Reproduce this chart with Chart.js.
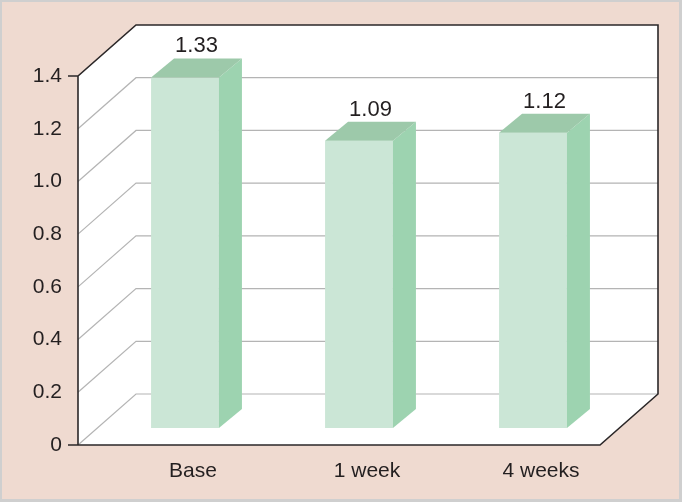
<!DOCTYPE html>
<html>
<head>
<meta charset="utf-8">
<script src="https://cdn.jsdelivr.net/npm/chart.js@4/dist/chart.umd.min.js"></script>
<style>
  body { margin: 0; background: #c9c9c9; }
  canvas { display: block; }
</style>
</head>
<body>
<canvas id="chart" width="682" height="502"></canvas>
<script>
// --- DONNÉES ---
const categories = ['Base', '1 week', '4 weeks'];
const values = [1.33, 1.09, 1.12];
const valueLabels = ['1.33', '1.09', '1.12'];
const yTicks = [0, 0.2, 0.4, 0.6, 0.8, 1.0, 1.2, 1.4];

// --- STYLE ---
const FONT = '"Liberation Sans", Arial, sans-serif';
const TEXT = '#231f20';
const FRAME_DX = 58, FRAME_DY = -51;   // profondeur du cadre 3D
const BAR_TX = 20, BAR_TY = -17;       // décalage des barres dans la profondeur
const BAR_DX = 23, BAR_DY = -19;       // épaisseur des barres

// cadre 3D, grille et faces latérales des barres
const box3d = {
    id: 'box3d',
    beforeDraw(chart) {
        const ctx = chart.ctx, a = chart.chartArea;
        ctx.save();
        ctx.fillStyle = '#cfcfcf';
        ctx.fillRect(0, 0, chart.width, chart.height);
        ctx.fillStyle = '#efdad0';
        ctx.fillRect(2, 2, chart.width - 5, chart.height - 5);
        // fond blanc du cadre
        ctx.fillStyle = '#ffffff';
        ctx.beginPath();
        ctx.moveTo(a.left, a.top);
        ctx.lineTo(a.left + FRAME_DX, a.top + FRAME_DY);
        ctx.lineTo(a.right + FRAME_DX, a.top + FRAME_DY);
        ctx.lineTo(a.right + FRAME_DX, a.bottom + FRAME_DY);
        ctx.lineTo(a.right, a.bottom);
        ctx.lineTo(a.left, a.bottom);
        ctx.closePath();
        ctx.fill();
        ctx.restore();
    },
    beforeDatasetsDraw(chart) {
        const ctx = chart.ctx, a = chart.chartArea, y = chart.scales.y;
        ctx.save();
        // grille (mur du fond + mur gauche)
        ctx.strokeStyle = '#b4b4b4';
        ctx.lineWidth = 1.2;
        yTicks.slice(0, -1).forEach(v => {
            const py = y.getPixelForValue(v);
            ctx.beginPath();
            ctx.moveTo(a.left, py);
            ctx.lineTo(a.left + FRAME_DX, py + FRAME_DY);
            ctx.lineTo(a.right + FRAME_DX, py + FRAME_DY);
            ctx.stroke();
        });
        // contour
        ctx.strokeStyle = '#2b2728';
        ctx.lineWidth = 1.6;
        ctx.beginPath();
        ctx.moveTo(a.left - 10, a.top);
        ctx.lineTo(a.left, a.top);
        ctx.lineTo(a.left + FRAME_DX, a.top + FRAME_DY);
        ctx.lineTo(a.right + FRAME_DX, a.top + FRAME_DY);
        ctx.lineTo(a.right + FRAME_DX, a.bottom + FRAME_DY);
        ctx.lineTo(a.right, a.bottom);
        ctx.lineTo(a.left - 10, a.bottom);
        ctx.moveTo(a.left, a.top);
        ctx.lineTo(a.left, a.bottom);
        ctx.stroke();
        // barres décalées dans la profondeur
        ctx.translate(BAR_TX, BAR_TY);
    },
    afterDatasetsDraw(chart) {
        const ctx = chart.ctx;
        ctx.restore();
        const meta = chart.getDatasetMeta(0);
        ctx.save();
        meta.data.forEach((bar, i) => {
            const p = bar.getProps(['x', 'y', 'base', 'width'], true);
            const l = p.x - p.width / 2 + BAR_TX, r = p.x + p.width / 2 + BAR_TX;
            const t = p.y + BAR_TY, b = p.base + BAR_TY;
            // face droite
            ctx.fillStyle = '#9dd3b0';
            ctx.beginPath();
            ctx.moveTo(r, t);
            ctx.lineTo(r + BAR_DX, t + BAR_DY);
            ctx.lineTo(r + BAR_DX, b + BAR_DY);
            ctx.lineTo(r, b);
            ctx.closePath();
            ctx.fill();
            // dessus
            ctx.fillStyle = '#9dc9aa';
            ctx.beginPath();
            ctx.moveTo(l, t);
            ctx.lineTo(l + BAR_DX, t + BAR_DY);
            ctx.lineTo(r + BAR_DX, t + BAR_DY);
            ctx.lineTo(r, t);
            ctx.closePath();
            ctx.fill();
            // étiquette de valeur
            ctx.fillStyle = TEXT;
            ctx.font = '22px ' + FONT;
            ctx.textAlign = 'center';
            ctx.textBaseline = 'alphabetic';
            ctx.fillText(valueLabels[i], (l + r) / 2 + BAR_DX / 2, t + BAR_DY - 6);
        });
        ctx.restore();
    }
};

new Chart(document.getElementById('chart'), {
    type: 'bar',
    data: {
        labels: categories,
        datasets: [{
            data: values,
            backgroundColor: '#cbe6d6',
            borderWidth: 0,
            barPercentage: 0.39,
            categoryPercentage: 1,
            clip: false
        }]
    },
    options: {
        responsive: false,
        animation: false,
        events: [],
        layout: { padding: { top: 76, right: 82, left: 0, bottom: 0 } },
        plugins: { legend: { display: false }, tooltip: { enabled: false } },
        scales: {
            x: {
                afterFit: s => { s.height = 57; },
                grid: { display: false, drawTicks: false },
                border: { display: false },
                ticks: { color: TEXT, font: { size: 21, family: FONT }, padding: 14, labelOffset: 28 }
            },
            y: {
                min: 0, max: 1.4,
                afterFit: s => { s.width = 78; },
                afterBuildTicks: s => { s.ticks = yTicks.map(v => ({ value: v })); },
                grid: { display: false, drawTicks: false },
                border: { display: false },
                ticks: {
                    color: TEXT, font: { size: 21, family: FONT }, padding: 16,
                    callback: v => v === 0 ? '0' : v.toFixed(1)
                }
            }
        }
    },
    plugins: [box3d]
});
</script>
</body>
</html>
